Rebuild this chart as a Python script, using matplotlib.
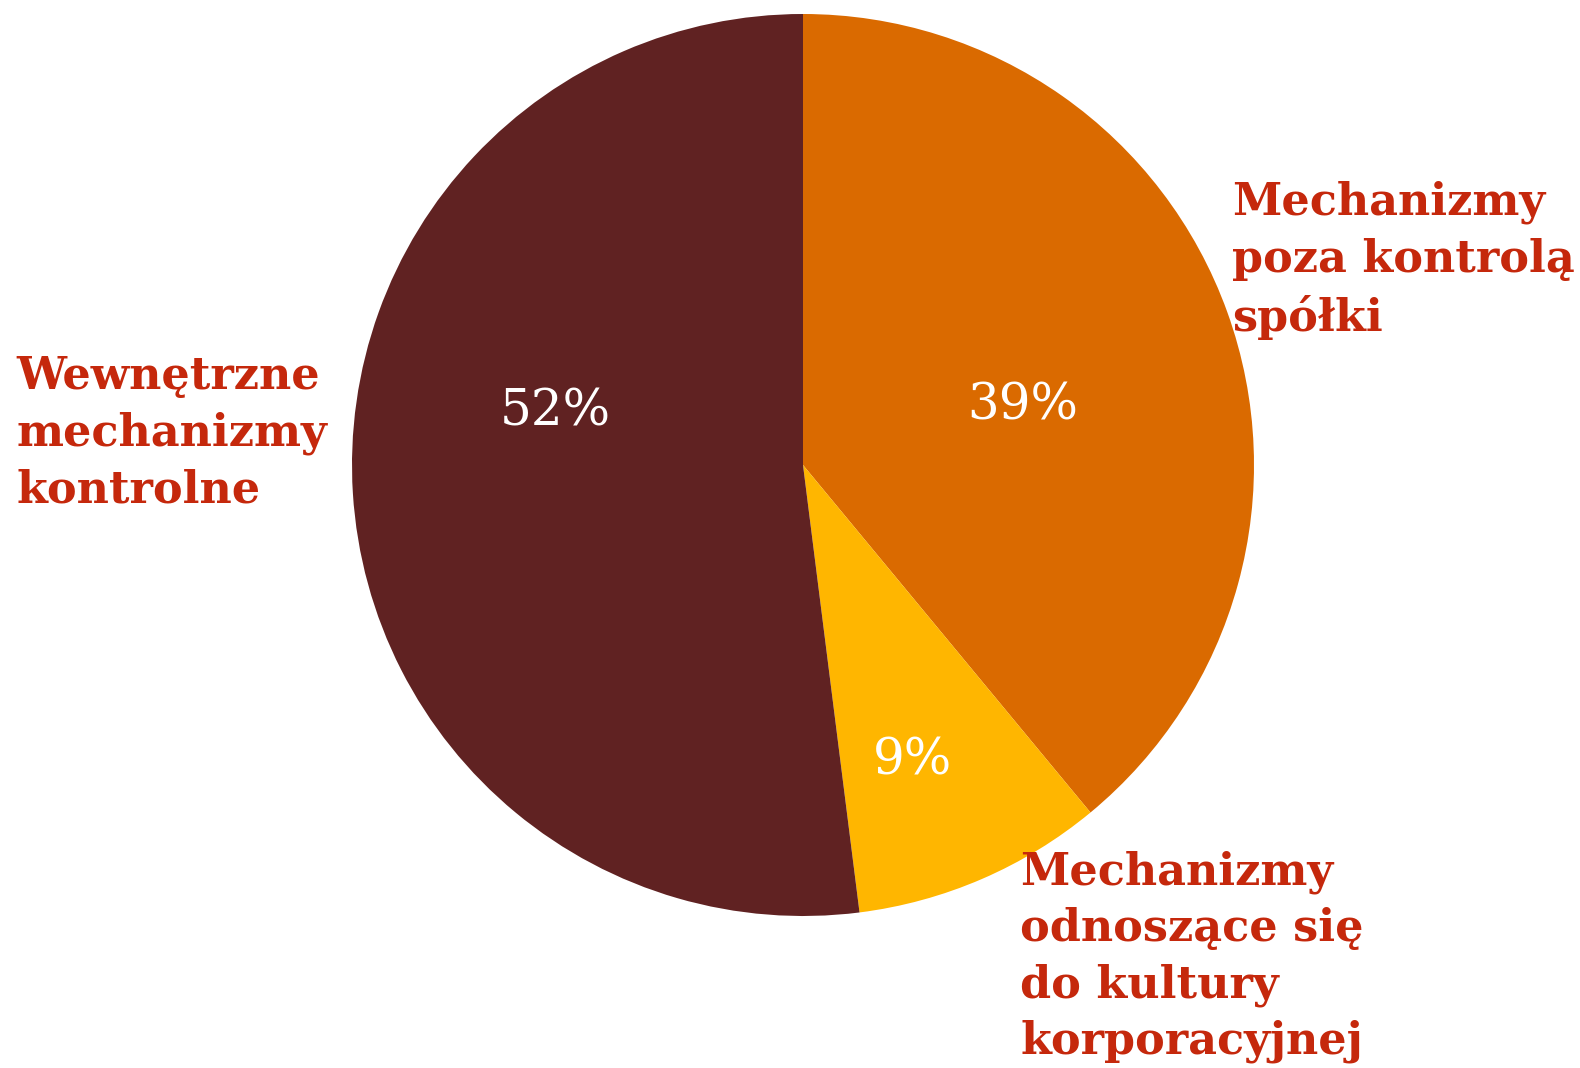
import matplotlib.pyplot as plt

# Data
labels = ['Mechanizmy\npoza kontrolą\nspółki',
          'Mechanizmy\nodnoszące się\ndo kultury\nkorporacyjnej',
          'Wewnętrzne\nmechanizmy\nkontrolne']
values = [39, 9, 52]
colors = ['#DA6A00', '#FFB600', '#602222']

W, H = 1580, 1068
fig = plt.figure(figsize=(W / 100, H / 100), dpi=100)
ax = fig.add_axes([0, 0, 1, 1])

cx, cy, r = 803, H - 465, 451
ax.pie(values, colors=colors, startangle=90, counterclock=False,
       center=(cx, cy), radius=r, frame=True,
       wedgeprops=dict(linewidth=0))
ax.set_xlim(0, W)
ax.set_ylim(0, H)
ax.set_aspect('equal')
ax.axis('off')

# percent labels
pct_pos = [(1023, 406), (912, 761), (555, 412)]
for v, (x, y) in zip(values, pct_pos):
    ax.text(x, H - y, f'{v}%', color='white', fontsize=36,
            family='DejaVu Serif', ha='center', va='center')

# category labels
lab_pos = [(1232, 181), (1020, 850), (16, 355)]
for lab, (x, y) in zip(labels, lab_pos):
    ax.text(x, H - y, lab, color='#C5280C', fontsize=32, fontweight='bold',
            family='DejaVu Serif', ha='left', va='top', linespacing=1.39)

fig.savefig('out.png', dpi=100)
